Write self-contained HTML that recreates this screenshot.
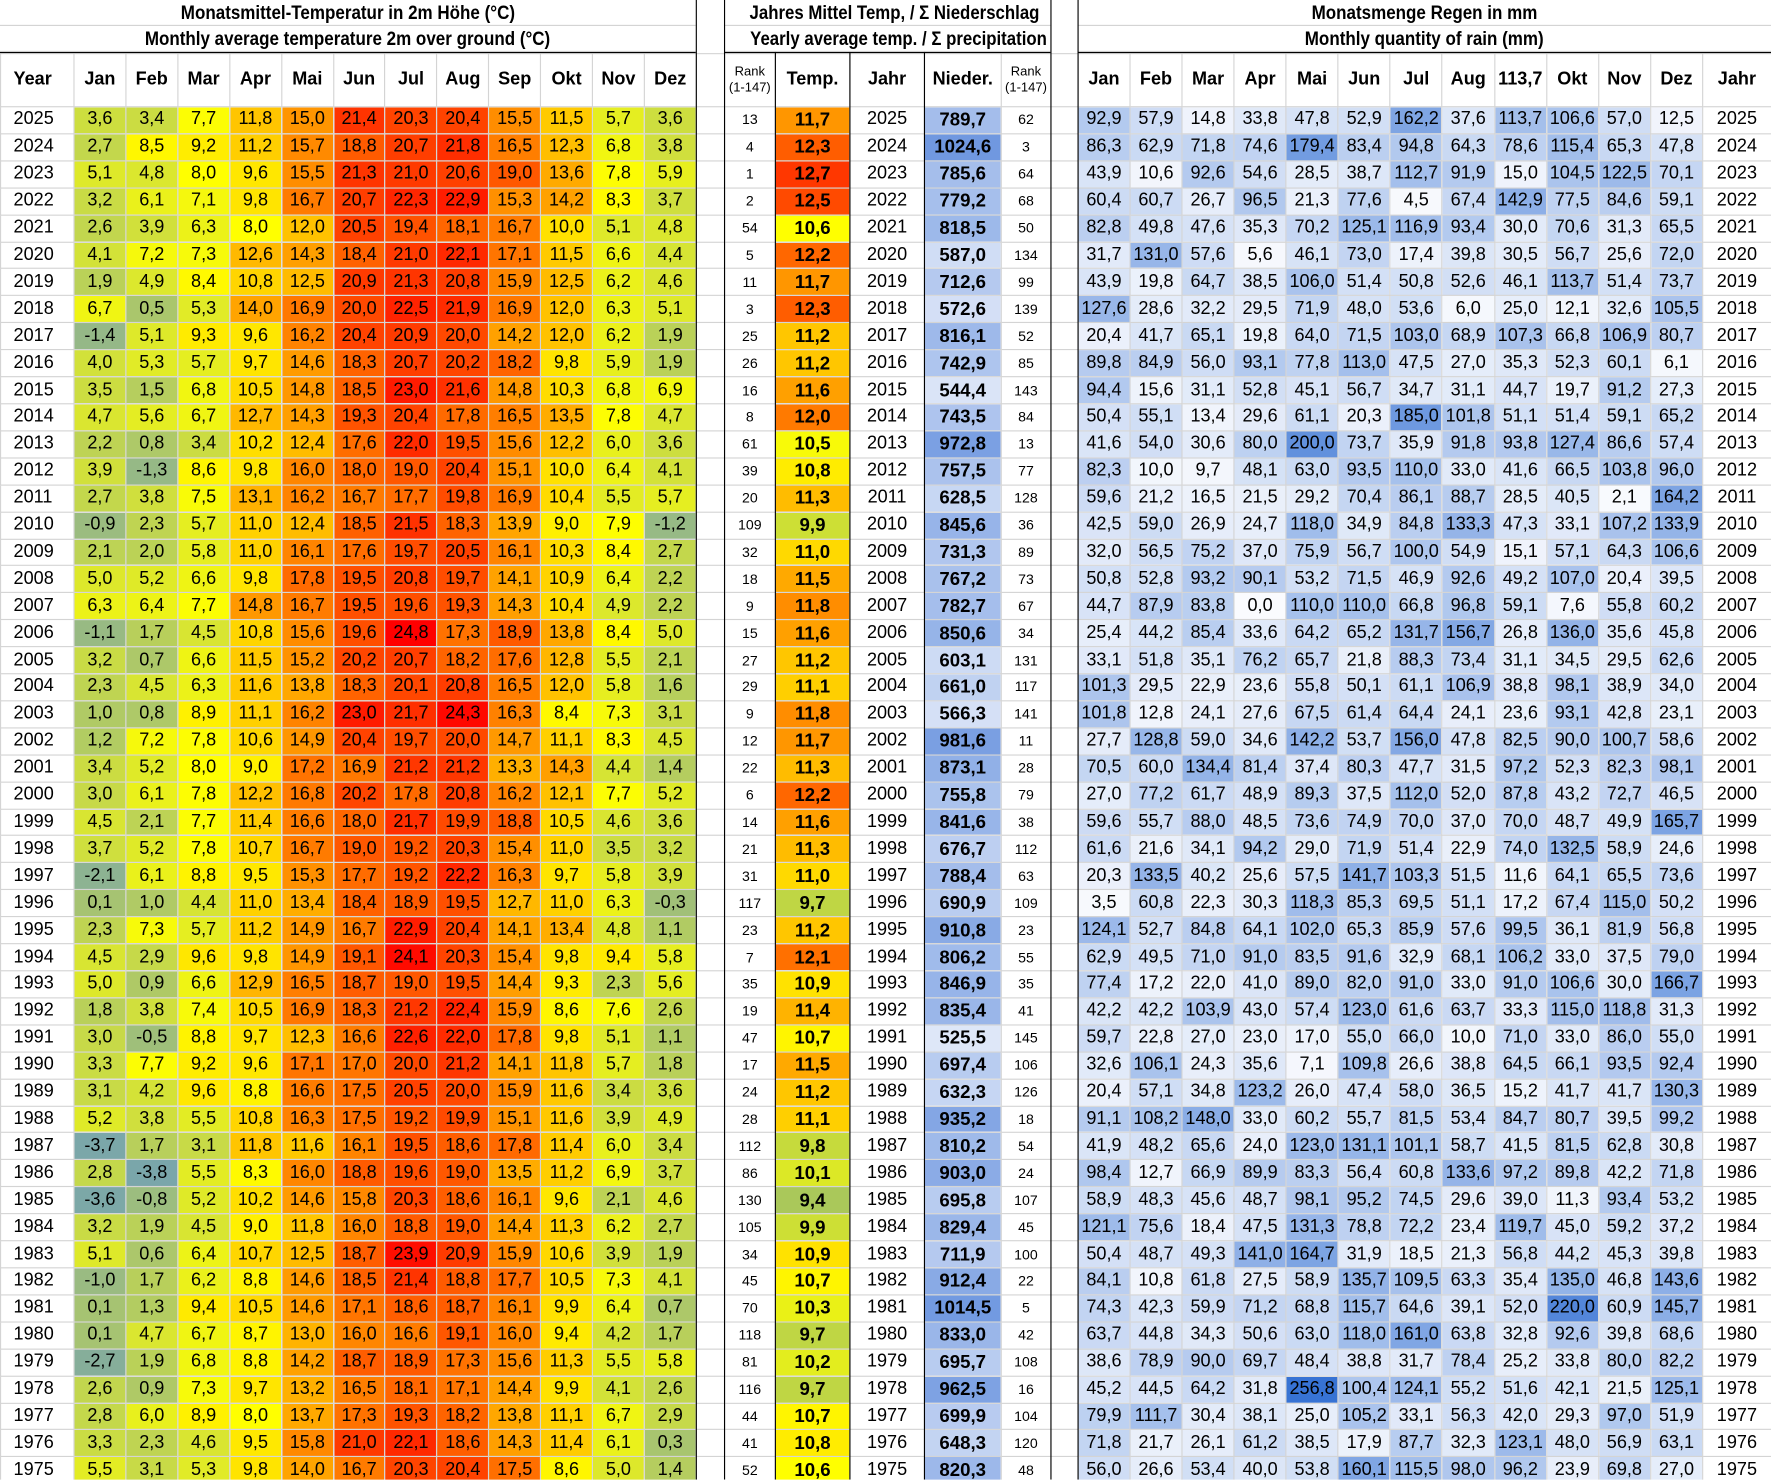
<!DOCTYPE html>
<html><head><meta charset="utf-8">
<style>
html,body{margin:0;padding:0;background:#fff;width:1771px;height:1480px;overflow:hidden}
#w{position:absolute;left:0;top:0;width:1568px;height:1310px;transform:scale(1.12946);transform-origin:0 0;overflow:hidden;font-family:"Liberation Sans",sans-serif;color:#000}
.t{position:absolute;height:23px;line-height:23px;text-align:center;font-weight:bold;font-size:17.5px;white-space:nowrap;border-bottom:1px solid #d4d4d4;box-sizing:border-box}
.t span{display:inline-block;transform:scaleX(.86)}
table{position:absolute;left:0;top:47px;border-collapse:collapse;table-layout:fixed;width:1568px}
td{border:1px solid #d4d4d4;padding:0;text-align:center;font-size:16px;height:22.92px;line-height:20px;white-space:nowrap;overflow:hidden}
tr.h td{height:46px;font-weight:bold;font-size:16px}
tr.h td.r{font-weight:normal;font-size:11.5px;line-height:14px}
td.g{border-left:none;border-right:none;background:#fff}
td.y{text-align:left;padding-left:11px}
td.b{font-weight:bold;font-size:16.5px}
td.k{font-size:12.5px}
.v{position:absolute;width:1.3px;background:#000}
.hz{position:absolute;height:1.3px;background:#000;top:46px}
</style></head><body><div id="w">
<div class="t" style="left:0;top:0;width:616px"><span>Monatsmittel-Temperatur in 2m Höhe (°C)</span></div>
<div class="t" style="left:0;top:23px;width:616px"><span>Monthly average temperature 2m over ground (°C)</span></div>
<div class="t" style="left:641px;top:0;width:289px"><span style="transform:scaleX(.85)">Jahres Mittel Temp, / Σ Niederschlag</span></div>
<div class="t" style="left:641px;top:23px;width:289px"><span style="transform:scaleX(.85)">Yearly average temp. / Σ precipitation</span></div>
<div class="t" style="left:954px;top:0;width:614px"><span>Monatsmenge Regen in mm</span></div>
<div class="t" style="left:954px;top:23px;width:614px"><span>Monthly quantity of rain (mm)</span></div>
<table id="tb">
<colgroup><col style="width:65px"><col span="12" style="width:45.92px"><col style="width:25px"><col style="width:45px"><col style="width:66px"><col style="width:66px"><col style="width:68px"><col style="width:44px"><col style="width:24px"><col span="12" style="width:46.08px"><col style="width:61px"></colgroup>
<tr class="h"><td class="y">Year<td>Jan<td>Feb<td>Mar<td>Apr<td>Mai<td>Jun<td>Jul<td>Aug<td>Sep<td>Okt<td>Nov<td>Dez<td class="g"><td class="r">Rank<br>(1-147)<td>Temp.<td>Jahr<td>Nieder.<td class="r">Rank<br>(1-147)<td class="g"><td>Jan<td>Feb<td>Mar<td>Apr<td>Mai<td>Jun<td>Jul<td>Aug<td>113,7<td>Okt<td>Nov<td>Dez<td>Jahr
<tr><td>2025<td>3,6<td>3,4<td>7,7<td>11,8<td>15,0<td>21,4<td>20,3<td>20,4<td>15,5<td>11,5<td>5,7<td>3,6<td><td>13<td>11,7<td>2025<td>789,7<td>62<td><td>92,9<td>57,9<td>14,8<td>33,8<td>47,8<td>52,9<td>162,2<td>37,6<td>113,7<td>106,6<td>57,0<td>12,5<td>2025
<tr><td>2024<td>2,7<td>8,5<td>9,2<td>11,2<td>15,7<td>18,8<td>20,7<td>21,8<td>16,5<td>12,3<td>6,8<td>3,8<td><td>4<td>12,3<td>2024<td>1024,6<td>3<td><td>86,3<td>62,9<td>71,8<td>74,6<td>179,4<td>83,4<td>94,8<td>64,3<td>78,6<td>115,4<td>65,3<td>47,8<td>2024
<tr><td>2023<td>5,1<td>4,8<td>8,0<td>9,6<td>15,5<td>21,3<td>21,0<td>20,6<td>19,0<td>13,6<td>7,8<td>5,9<td><td>1<td>12,7<td>2023<td>785,6<td>64<td><td>43,9<td>10,6<td>92,6<td>54,6<td>28,5<td>38,7<td>112,7<td>91,9<td>15,0<td>104,5<td>122,5<td>70,1<td>2023
<tr><td>2022<td>3,2<td>6,1<td>7,1<td>9,8<td>16,7<td>20,7<td>22,3<td>22,9<td>15,3<td>14,2<td>8,3<td>3,7<td><td>2<td>12,5<td>2022<td>779,2<td>68<td><td>60,4<td>60,7<td>26,7<td>96,5<td>21,3<td>77,6<td>4,5<td>67,4<td>142,9<td>77,5<td>84,6<td>59,1<td>2022
<tr><td>2021<td>2,6<td>3,9<td>6,3<td>8,0<td>12,0<td>20,5<td>19,4<td>18,1<td>16,7<td>10,0<td>5,1<td>4,8<td><td>54<td>10,6<td>2021<td>818,5<td>50<td><td>82,8<td>49,8<td>47,6<td>35,3<td>70,2<td>125,1<td>116,9<td>93,4<td>30,0<td>70,6<td>31,3<td>65,5<td>2021
<tr><td>2020<td>4,1<td>7,2<td>7,3<td>12,6<td>14,3<td>18,4<td>21,0<td>22,1<td>17,1<td>11,5<td>6,6<td>4,4<td><td>5<td>12,2<td>2020<td>587,0<td>134<td><td>31,7<td>131,0<td>57,6<td>5,6<td>46,1<td>73,0<td>17,4<td>39,8<td>30,5<td>56,7<td>25,6<td>72,0<td>2020
<tr><td>2019<td>1,9<td>4,9<td>8,4<td>10,8<td>12,5<td>20,9<td>21,3<td>20,8<td>15,9<td>12,5<td>6,2<td>4,6<td><td>11<td>11,7<td>2019<td>712,6<td>99<td><td>43,9<td>19,8<td>64,7<td>38,5<td>106,0<td>51,4<td>50,8<td>52,6<td>46,1<td>113,7<td>51,4<td>73,7<td>2019
<tr><td>2018<td>6,7<td>0,5<td>5,3<td>14,0<td>16,9<td>20,0<td>22,5<td>21,9<td>16,9<td>12,0<td>6,3<td>5,1<td><td>3<td>12,3<td>2018<td>572,6<td>139<td><td>127,6<td>28,6<td>32,2<td>29,5<td>71,9<td>48,0<td>53,6<td>6,0<td>25,0<td>12,1<td>32,6<td>105,5<td>2018
<tr><td>2017<td>-1,4<td>5,1<td>9,3<td>9,6<td>16,2<td>20,4<td>20,9<td>20,0<td>14,2<td>12,0<td>6,2<td>1,9<td><td>25<td>11,2<td>2017<td>816,1<td>52<td><td>20,4<td>41,7<td>65,1<td>19,8<td>64,0<td>71,5<td>103,0<td>68,9<td>107,3<td>66,8<td>106,9<td>80,7<td>2017
<tr><td>2016<td>4,0<td>5,3<td>5,7<td>9,7<td>14,6<td>18,3<td>20,7<td>20,2<td>18,2<td>9,8<td>5,9<td>1,9<td><td>26<td>11,2<td>2016<td>742,9<td>85<td><td>89,8<td>84,9<td>56,0<td>93,1<td>77,8<td>113,0<td>47,5<td>27,0<td>35,3<td>52,3<td>60,1<td>6,1<td>2016
<tr><td>2015<td>3,5<td>1,5<td>6,8<td>10,5<td>14,8<td>18,5<td>23,0<td>21,6<td>14,8<td>10,3<td>6,8<td>6,9<td><td>16<td>11,6<td>2015<td>544,4<td>143<td><td>94,4<td>15,6<td>31,1<td>52,8<td>45,1<td>56,7<td>34,7<td>31,1<td>44,7<td>19,7<td>91,2<td>27,3<td>2015
<tr><td>2014<td>4,7<td>5,6<td>6,7<td>12,7<td>14,3<td>19,3<td>20,4<td>17,8<td>16,5<td>13,5<td>7,8<td>4,7<td><td>8<td>12,0<td>2014<td>743,5<td>84<td><td>50,4<td>55,1<td>13,4<td>29,6<td>61,1<td>20,3<td>185,0<td>101,8<td>51,1<td>51,4<td>59,1<td>65,2<td>2014
<tr><td>2013<td>2,2<td>0,8<td>3,4<td>10,2<td>12,4<td>17,6<td>22,0<td>19,5<td>15,6<td>12,2<td>6,0<td>3,6<td><td>61<td>10,5<td>2013<td>972,8<td>13<td><td>41,6<td>54,0<td>30,6<td>80,0<td>200,0<td>73,7<td>35,9<td>91,8<td>93,8<td>127,4<td>86,6<td>57,4<td>2013
<tr><td>2012<td>3,9<td>-1,3<td>8,6<td>9,8<td>16,0<td>18,0<td>19,0<td>20,4<td>15,1<td>10,0<td>6,4<td>4,1<td><td>39<td>10,8<td>2012<td>757,5<td>77<td><td>82,3<td>10,0<td>9,7<td>48,1<td>63,0<td>93,5<td>110,0<td>33,0<td>41,6<td>66,5<td>103,8<td>96,0<td>2012
<tr><td>2011<td>2,7<td>3,8<td>7,5<td>13,1<td>16,2<td>16,7<td>17,7<td>19,8<td>16,9<td>10,4<td>5,5<td>5,7<td><td>20<td>11,3<td>2011<td>628,5<td>128<td><td>59,6<td>21,2<td>16,5<td>21,5<td>29,2<td>70,4<td>86,1<td>88,7<td>28,5<td>40,5<td>2,1<td>164,2<td>2011
<tr><td>2010<td>-0,9<td>2,3<td>5,7<td>11,0<td>12,4<td>18,5<td>21,5<td>18,3<td>13,9<td>9,0<td>7,9<td>-1,2<td><td>109<td>9,9<td>2010<td>845,6<td>36<td><td>42,5<td>59,0<td>26,9<td>24,7<td>118,0<td>34,9<td>84,8<td>133,3<td>47,3<td>33,1<td>107,2<td>133,9<td>2010
<tr><td>2009<td>2,1<td>2,0<td>5,8<td>11,0<td>16,1<td>17,6<td>19,7<td>20,5<td>16,1<td>10,3<td>8,4<td>2,7<td><td>32<td>11,0<td>2009<td>731,3<td>89<td><td>32,0<td>56,5<td>75,2<td>37,0<td>75,9<td>56,7<td>100,0<td>54,9<td>15,1<td>57,1<td>64,3<td>106,6<td>2009
<tr><td>2008<td>5,0<td>5,2<td>6,6<td>9,8<td>17,8<td>19,5<td>20,8<td>19,7<td>14,1<td>10,9<td>6,4<td>2,2<td><td>18<td>11,5<td>2008<td>767,2<td>73<td><td>50,8<td>52,8<td>93,2<td>90,1<td>53,2<td>71,5<td>46,9<td>92,6<td>49,2<td>107,0<td>20,4<td>39,5<td>2008
<tr><td>2007<td>6,3<td>6,4<td>7,7<td>14,8<td>16,7<td>19,5<td>19,6<td>19,3<td>14,3<td>10,4<td>4,9<td>2,2<td><td>9<td>11,8<td>2007<td>782,7<td>67<td><td>44,7<td>87,9<td>83,8<td>0,0<td>110,0<td>110,0<td>66,8<td>96,8<td>59,1<td>7,6<td>55,8<td>60,2<td>2007
<tr><td>2006<td>-1,1<td>1,7<td>4,5<td>10,8<td>15,6<td>19,6<td>24,8<td>17,3<td>18,9<td>13,8<td>8,4<td>5,0<td><td>15<td>11,6<td>2006<td>850,6<td>34<td><td>25,4<td>44,2<td>85,4<td>33,6<td>64,2<td>65,2<td>131,7<td>156,7<td>26,8<td>136,0<td>35,6<td>45,8<td>2006
<tr><td>2005<td>3,2<td>0,7<td>6,6<td>11,5<td>15,2<td>20,2<td>20,7<td>18,2<td>17,6<td>12,8<td>5,5<td>2,1<td><td>27<td>11,2<td>2005<td>603,1<td>131<td><td>33,1<td>51,8<td>35,1<td>76,2<td>65,7<td>21,8<td>88,3<td>73,4<td>31,1<td>34,5<td>29,5<td>62,6<td>2005
<tr><td>2004<td>2,3<td>4,5<td>6,3<td>11,6<td>13,8<td>18,3<td>20,1<td>20,8<td>16,5<td>12,0<td>5,8<td>1,6<td><td>29<td>11,1<td>2004<td>661,0<td>117<td><td>101,3<td>29,5<td>22,9<td>23,6<td>55,8<td>50,1<td>61,1<td>106,9<td>38,8<td>98,1<td>38,9<td>34,0<td>2004
<tr><td>2003<td>1,0<td>0,8<td>8,9<td>11,1<td>16,2<td>23,0<td>21,7<td>24,3<td>16,3<td>8,4<td>7,3<td>3,1<td><td>9<td>11,8<td>2003<td>566,3<td>141<td><td>101,8<td>12,8<td>24,1<td>27,6<td>67,5<td>61,4<td>64,4<td>24,1<td>23,6<td>93,1<td>42,8<td>23,1<td>2003
<tr><td>2002<td>1,2<td>7,2<td>7,8<td>10,6<td>14,9<td>20,4<td>19,7<td>20,0<td>14,7<td>11,1<td>8,3<td>4,5<td><td>12<td>11,7<td>2002<td>981,6<td>11<td><td>27,7<td>128,8<td>59,0<td>34,6<td>142,2<td>53,7<td>156,0<td>47,8<td>82,5<td>90,0<td>100,7<td>58,6<td>2002
<tr><td>2001<td>3,4<td>5,2<td>8,0<td>9,0<td>17,2<td>16,9<td>21,2<td>21,2<td>13,3<td>14,3<td>4,4<td>1,4<td><td>22<td>11,3<td>2001<td>873,1<td>28<td><td>70,5<td>60,0<td>134,4<td>81,4<td>37,4<td>80,3<td>47,7<td>31,5<td>97,2<td>52,3<td>82,3<td>98,1<td>2001
<tr><td>2000<td>3,0<td>6,1<td>7,8<td>12,2<td>16,8<td>20,2<td>17,8<td>20,8<td>16,2<td>12,1<td>7,7<td>5,2<td><td>6<td>12,2<td>2000<td>755,8<td>79<td><td>27,0<td>77,2<td>61,7<td>48,9<td>89,3<td>37,5<td>112,0<td>52,0<td>87,8<td>43,2<td>72,7<td>46,5<td>2000
<tr><td>1999<td>4,5<td>2,1<td>7,7<td>11,4<td>16,6<td>18,0<td>21,7<td>19,9<td>18,8<td>10,5<td>4,6<td>3,6<td><td>14<td>11,6<td>1999<td>841,6<td>38<td><td>59,6<td>55,7<td>88,0<td>48,5<td>73,6<td>74,9<td>70,0<td>37,0<td>70,0<td>48,7<td>49,9<td>165,7<td>1999
<tr><td>1998<td>3,7<td>5,2<td>7,8<td>10,7<td>16,7<td>19,0<td>19,2<td>20,3<td>15,4<td>11,0<td>3,5<td>3,2<td><td>21<td>11,3<td>1998<td>676,7<td>112<td><td>61,6<td>21,6<td>34,1<td>94,2<td>29,0<td>71,9<td>51,4<td>22,9<td>74,0<td>132,5<td>58,9<td>24,6<td>1998
<tr><td>1997<td>-2,1<td>6,1<td>8,8<td>9,5<td>15,3<td>17,7<td>19,2<td>22,2<td>16,3<td>9,7<td>5,8<td>3,9<td><td>31<td>11,0<td>1997<td>788,4<td>63<td><td>20,3<td>133,5<td>40,2<td>25,6<td>57,5<td>141,7<td>103,3<td>51,5<td>11,6<td>64,1<td>65,5<td>73,6<td>1997
<tr><td>1996<td>0,1<td>1,0<td>4,4<td>11,0<td>13,4<td>18,4<td>18,9<td>19,5<td>12,7<td>11,0<td>6,3<td>-0,3<td><td>117<td>9,7<td>1996<td>690,9<td>109<td><td>3,5<td>60,8<td>22,3<td>30,3<td>118,3<td>85,3<td>69,5<td>51,1<td>17,2<td>67,4<td>115,0<td>50,2<td>1996
<tr><td>1995<td>2,3<td>7,3<td>5,7<td>11,2<td>14,9<td>16,7<td>22,9<td>20,4<td>14,1<td>13,4<td>4,8<td>1,1<td><td>23<td>11,2<td>1995<td>910,8<td>23<td><td>124,1<td>52,7<td>84,8<td>64,1<td>102,0<td>65,3<td>85,9<td>57,6<td>99,5<td>36,1<td>81,9<td>56,8<td>1995
<tr><td>1994<td>4,5<td>2,9<td>9,6<td>9,8<td>14,9<td>19,1<td>24,1<td>20,3<td>15,4<td>9,8<td>9,4<td>5,8<td><td>7<td>12,1<td>1994<td>806,2<td>55<td><td>62,9<td>49,5<td>71,0<td>91,0<td>83,5<td>91,6<td>32,9<td>68,1<td>106,2<td>33,0<td>37,5<td>79,0<td>1994
<tr><td>1993<td>5,0<td>0,9<td>6,6<td>12,9<td>16,5<td>18,7<td>19,0<td>19,5<td>14,4<td>9,3<td>2,3<td>5,6<td><td>35<td>10,9<td>1993<td>846,9<td>35<td><td>77,4<td>17,2<td>22,0<td>41,0<td>89,0<td>82,0<td>91,0<td>33,0<td>91,0<td>106,6<td>30,0<td>166,7<td>1993
<tr><td>1992<td>1,8<td>3,8<td>7,4<td>10,5<td>16,9<td>18,3<td>21,2<td>22,4<td>15,9<td>8,6<td>7,6<td>2,6<td><td>19<td>11,4<td>1992<td>835,4<td>41<td><td>42,2<td>42,2<td>103,9<td>43,0<td>57,4<td>123,0<td>61,6<td>63,7<td>33,3<td>115,0<td>118,8<td>31,3<td>1992
<tr><td>1991<td>3,0<td>-0,5<td>8,8<td>9,7<td>12,3<td>16,6<td>22,6<td>22,0<td>17,8<td>9,8<td>5,1<td>1,1<td><td>47<td>10,7<td>1991<td>525,5<td>145<td><td>59,7<td>22,8<td>27,0<td>23,0<td>17,0<td>55,0<td>66,0<td>10,0<td>71,0<td>33,0<td>86,0<td>55,0<td>1991
<tr><td>1990<td>3,3<td>7,7<td>9,2<td>9,6<td>17,1<td>17,0<td>20,0<td>21,2<td>14,1<td>11,8<td>5,7<td>1,8<td><td>17<td>11,5<td>1990<td>697,4<td>106<td><td>32,6<td>106,1<td>24,3<td>35,6<td>7,1<td>109,8<td>26,6<td>38,8<td>64,5<td>66,1<td>93,5<td>92,4<td>1990
<tr><td>1989<td>3,1<td>4,2<td>9,6<td>8,8<td>16,6<td>17,5<td>20,5<td>20,0<td>15,9<td>11,6<td>3,4<td>3,6<td><td>24<td>11,2<td>1989<td>632,3<td>126<td><td>20,4<td>57,1<td>34,8<td>123,2<td>26,0<td>47,4<td>58,0<td>36,5<td>15,2<td>41,7<td>41,7<td>130,3<td>1989
<tr><td>1988<td>5,2<td>3,8<td>5,5<td>10,8<td>16,3<td>17,5<td>19,2<td>19,9<td>15,1<td>11,6<td>3,9<td>4,9<td><td>28<td>11,1<td>1988<td>935,2<td>18<td><td>91,1<td>108,2<td>148,0<td>33,0<td>60,2<td>55,7<td>81,5<td>53,4<td>84,7<td>80,7<td>39,5<td>99,2<td>1988
<tr><td>1987<td>-3,7<td>1,7<td>3,1<td>11,8<td>11,6<td>16,1<td>19,5<td>18,6<td>17,8<td>11,4<td>6,0<td>3,4<td><td>112<td>9,8<td>1987<td>810,2<td>54<td><td>41,9<td>48,2<td>65,6<td>24,0<td>123,0<td>131,1<td>101,1<td>58,7<td>41,5<td>81,5<td>62,8<td>30,8<td>1987
<tr><td>1986<td>2,8<td>-3,8<td>5,5<td>8,3<td>16,0<td>18,8<td>19,6<td>19,0<td>13,5<td>11,2<td>6,9<td>3,7<td><td>86<td>10,1<td>1986<td>903,0<td>24<td><td>98,4<td>12,7<td>66,9<td>89,9<td>83,3<td>56,4<td>60,8<td>133,6<td>97,2<td>89,8<td>42,2<td>71,8<td>1986
<tr><td>1985<td>-3,6<td>-0,8<td>5,2<td>10,2<td>14,6<td>15,8<td>20,3<td>18,6<td>16,1<td>9,6<td>2,1<td>4,6<td><td>130<td>9,4<td>1985<td>695,8<td>107<td><td>58,9<td>48,3<td>45,6<td>48,7<td>98,1<td>95,2<td>74,5<td>29,6<td>39,0<td>11,3<td>93,4<td>53,2<td>1985
<tr><td>1984<td>3,2<td>1,9<td>4,5<td>9,0<td>11,8<td>16,0<td>18,8<td>19,0<td>14,4<td>11,3<td>6,2<td>2,7<td><td>105<td>9,9<td>1984<td>829,4<td>45<td><td>121,1<td>75,6<td>18,4<td>47,5<td>131,3<td>78,8<td>72,2<td>23,4<td>119,7<td>45,0<td>59,2<td>37,2<td>1984
<tr><td>1983<td>5,1<td>0,6<td>6,4<td>10,7<td>12,5<td>18,7<td>23,9<td>20,9<td>15,9<td>10,6<td>3,9<td>1,9<td><td>34<td>10,9<td>1983<td>711,9<td>100<td><td>50,4<td>48,7<td>49,3<td>141,0<td>164,7<td>31,9<td>18,5<td>21,3<td>56,8<td>44,2<td>45,3<td>39,8<td>1983
<tr><td>1982<td>-1,0<td>1,7<td>6,2<td>8,8<td>14,6<td>18,5<td>21,4<td>18,8<td>17,7<td>10,5<td>7,3<td>4,1<td><td>45<td>10,7<td>1982<td>912,4<td>22<td><td>84,1<td>10,8<td>61,8<td>27,5<td>58,9<td>135,7<td>109,5<td>63,3<td>35,4<td>135,0<td>46,8<td>143,6<td>1982
<tr><td>1981<td>0,1<td>1,3<td>9,4<td>10,5<td>14,6<td>17,1<td>18,6<td>18,7<td>16,1<td>9,9<td>6,4<td>0,7<td><td>70<td>10,3<td>1981<td>1014,5<td>5<td><td>74,3<td>42,3<td>59,9<td>71,2<td>68,8<td>115,7<td>64,6<td>39,1<td>52,0<td>220,0<td>60,9<td>145,7<td>1981
<tr><td>1980<td>0,1<td>4,7<td>6,7<td>8,7<td>13,0<td>16,0<td>16,6<td>19,1<td>16,0<td>9,4<td>4,2<td>1,7<td><td>118<td>9,7<td>1980<td>833,0<td>42<td><td>63,7<td>44,8<td>34,3<td>50,6<td>63,0<td>118,0<td>161,0<td>63,8<td>32,8<td>92,6<td>39,8<td>68,6<td>1980
<tr><td>1979<td>-2,7<td>1,9<td>6,8<td>8,8<td>14,2<td>18,7<td>18,9<td>17,3<td>15,6<td>11,3<td>5,5<td>5,8<td><td>81<td>10,2<td>1979<td>695,7<td>108<td><td>38,6<td>78,9<td>90,0<td>69,7<td>48,4<td>38,8<td>31,7<td>78,4<td>25,2<td>33,8<td>80,0<td>82,2<td>1979
<tr><td>1978<td>2,6<td>0,9<td>7,3<td>9,7<td>13,2<td>16,5<td>18,1<td>17,1<td>14,4<td>9,9<td>4,1<td>2,6<td><td>116<td>9,7<td>1978<td>962,5<td>16<td><td>45,2<td>44,5<td>64,2<td>31,8<td>256,8<td>100,4<td>124,1<td>55,2<td>51,6<td>42,1<td>21,5<td>125,1<td>1978
<tr><td>1977<td>2,8<td>6,0<td>8,9<td>8,0<td>13,7<td>17,3<td>19,3<td>18,2<td>13,8<td>11,1<td>6,7<td>2,9<td><td>44<td>10,7<td>1977<td>699,9<td>104<td><td>79,9<td>111,7<td>30,4<td>38,1<td>25,0<td>105,2<td>33,1<td>56,3<td>42,0<td>29,3<td>97,0<td>51,9<td>1977
<tr><td>1976<td>3,3<td>2,3<td>4,6<td>9,5<td>15,8<td>21,0<td>22,1<td>18,6<td>14,3<td>11,4<td>6,1<td>0,3<td><td>41<td>10,8<td>1976<td>648,3<td>120<td><td>71,8<td>21,7<td>26,1<td>61,2<td>38,5<td>17,9<td>87,7<td>32,3<td>123,1<td>48,0<td>56,9<td>63,1<td>1976
<tr><td>1975<td>5,5<td>3,1<td>5,3<td>9,8<td>14,0<td>16,7<td>20,3<td>20,4<td>17,5<td>8,6<td>5,0<td>1,4<td><td>52<td>10,6<td>1975<td>820,3<td>48<td><td>56,0<td>26,6<td>53,4<td>40,0<td>53,8<td>160,1<td>115,5<td>98,0<td>96,2<td>23,9<td>69,8<td>27,0<td>1975
</table>
<div class="v" style="left:615.5px;top:0;height:1310px"></div>
<div class="v" style="left:640.5px;top:0;height:1310px"></div>
<div class="v" style="left:685.5px;top:46px;height:1264px"></div>
<div class="v" style="left:751.5px;top:46px;height:1264px"></div>
<div class="v" style="left:817.5px;top:46px;height:1264px"></div>
<div class="v" style="left:929.5px;top:0;height:1310px"></div>
<div class="v" style="left:953.5px;top:0;height:1310px"></div>
<div class="hz" style="left:0;width:616px"></div>
<div class="hz" style="left:641px;width:289px"></div>
<div class="hz" style="left:954px;width:614px"></div>
</div>
<script>
function L(a,b,f){f=Math.max(0,Math.min(1,f));return 'rgb('+a.map(function(x,i){return Math.round(x+(b[i]-x)*f)}).join(',')+')'}
function tc(v){return v<=8?L([122,166,170],[255,255,0],(v+3.8)/11.8):L([255,255,0],[255,0,0],(v-8)/16.8)}
function yc(v){return v<=10.6?L([170,200,90],[255,255,0],(v-9.4)/1.2):L([255,255,0],[255,55,0],(v-10.6)/2.1)}
function rc(v){return L([250,251,254],[55,115,212],v/256.8)}
function nc(v){return L([222,231,248],[112,152,224],(v-525)/500)}
var rows=document.getElementById('tb').rows;
for(var r=0;r<rows.length;r++){var c=rows[r].cells;
 c[13].className='g';c[19].className='g';
 if(r==0){continue}
 c[0].className='y';c[14].className='k';c[18].className='k';c[15].className='b';c[17].className='b';
 for(var i=1;i<c.length;i++){var v=parseFloat(c[i].textContent.replace(',','.'));
  if(i<=12)c[i].style.background=tc(v);
  else if(i==15)c[i].style.background=yc(v);
  else if(i==17)c[i].style.background=nc(v);
  else if(i>=20&&i<=31)c[i].style.background=rc(v);}
}
</script>
</body></html>
